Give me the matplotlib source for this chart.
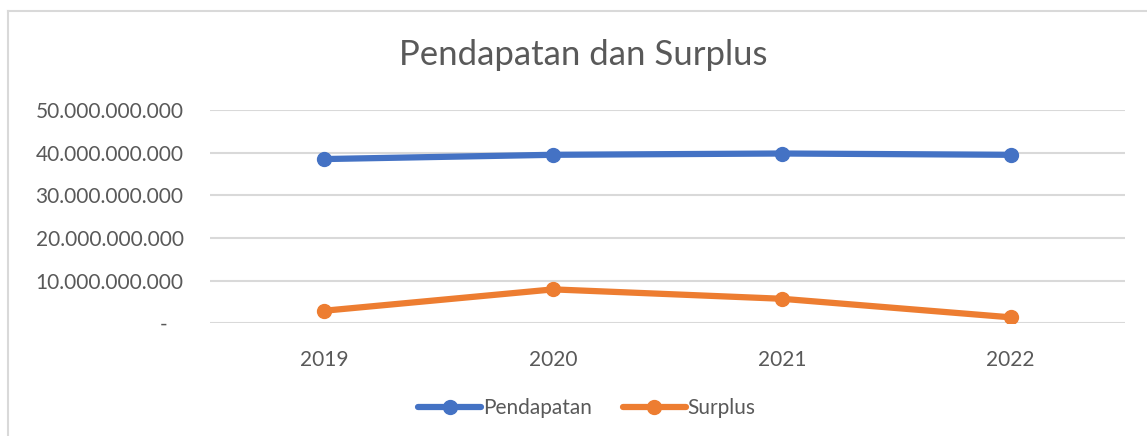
import matplotlib.pyplot as plt
from matplotlib.lines import Line2D
from matplotlib.ticker import FuncFormatter

years = ["2019", "2020", "2021", "2022"]
pendapatan = [38.5e9, 39.5e9, 39.8e9, 39.5e9]
surplus = [2.95e9, 7.95e9, 5.75e9, 1.4e9]

plt.rcParams['font.family'] = ['Lato', 'DejaVu Sans']
grey = "#595959"

fig = plt.figure(figsize=(11.47, 4.36), dpi=100)
ax = fig.add_axes([210 / 1147, 1 - 323.3 / 436, 915 / 1147, 213.3 / 436])

x = range(len(years))
ax.plot(x, pendapatan, color="#4472C4", linewidth=4.5, marker="o",
        markersize=10, label="Pendapatan", solid_capstyle="round")
ax.plot(x, surplus, color="#ED7D31", linewidth=4.5, marker="o",
        markersize=10, label="Surplus", solid_capstyle="round")

ax.set_xlim(-0.5, 3.5)
ax.set_ylim(0, 50e9)
ax.set_yticks([0, 10e9, 20e9, 30e9, 40e9, 50e9])


def fmt(v, pos):
    if v == 0:
        return "-   "
    return f"{int(v):,}".replace(",", ".")


ax.yaxis.set_major_formatter(FuncFormatter(fmt))
ax.set_xticks(list(x))
ax.set_xticklabels(years)
ax.tick_params(axis="both", length=0, labelsize=15, colors=grey)
ax.tick_params(axis="y", pad=19)
ax.tick_params(axis="x", pad=19)
ax.grid(axis="y", color="#D9D9D9", linewidth=1.5)
ax.set_axisbelow(True)
for s in ax.spines.values():
    s.set_visible(False)

fig.text(583 / 1147, 1 - 55 / 436, "Pendapatan dan Surplus", ha="center",
         va="center", fontsize=25, color=grey)

fig.legend(loc="center", bbox_to_anchor=(587 / 1147, 1 - 408 / 436), ncol=2,
           frameon=False, fontsize=15, labelcolor=grey, handlelength=3.0,
           handletextpad=0.1, columnspacing=1.5)

# chart frame (left and top edges only)
fig.add_artist(Line2D([8 / 1147, 8 / 1147], [0, 1 - 11 / 436],
                      color="#D9D9D9", linewidth=1.5))
fig.add_artist(Line2D([8 / 1147, 1], [1 - 11 / 436, 1 - 11 / 436],
                      color="#D9D9D9", linewidth=1.5))

fig.savefig("out.png", dpi=100)
